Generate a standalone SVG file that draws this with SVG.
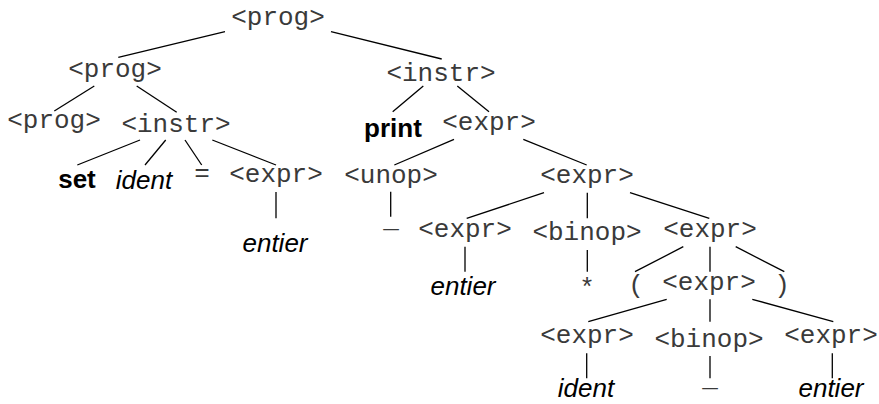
<svg xmlns="http://www.w3.org/2000/svg" width="879" height="404" viewBox="0 0 879 404">
  <style>
    .mono { font-family: "Liberation Mono", "Courier New", monospace; font-size: 26px; fill: #3a3a3a; text-anchor: middle; }
    .kw { font-family: "Liberation Sans", Arial, sans-serif; font-size: 26px; font-weight: bold; fill: #000; text-anchor: middle; }
    .tok { font-family: "Liberation Sans", Arial, sans-serif; font-size: 26px; font-style: italic; fill: #000; text-anchor: middle; }
    .edges line { stroke: #000; stroke-width: 1.3; stroke-linecap: butt; }
  </style>
  <rect width="879" height="404" fill="#fff"/>

  <!-- parse tree edges -->
  <g id="connectors" class="edges">
    <line x1="225" y1="31.7" x2="118.3" y2="57.3"/>
    <line x1="331" y1="31.7" x2="441.7" y2="59"/>
    <line x1="94.3" y1="86" x2="54.3" y2="111"/>
    <line x1="136.7" y1="86" x2="176.7" y2="112.3"/>
    <line x1="423.3" y1="86" x2="392.7" y2="111.7"/>
    <line x1="457.3" y1="86" x2="489" y2="111.7"/>
    <line x1="140" y1="140" x2="77.3" y2="165"/>
    <line x1="165.7" y1="140" x2="145" y2="165"/>
    <line x1="185" y1="140" x2="201.7" y2="165"/>
    <line x1="212.3" y1="140" x2="276" y2="165"/>
    <line x1="454" y1="139.3" x2="394.3" y2="165"/>
    <line x1="523.3" y1="139.3" x2="586.7" y2="165"/>
    <line x1="276" y1="192" x2="276" y2="218.3"/>
    <line x1="390.7" y1="191.7" x2="390.7" y2="216.7"/>
    <line x1="544" y1="192.7" x2="466.7" y2="218.3"/>
    <line x1="587.3" y1="192.7" x2="587.3" y2="218.3"/>
    <line x1="630" y1="192.7" x2="709.3" y2="218.3"/>
    <line x1="465" y1="246.7" x2="465" y2="271.7"/>
    <line x1="587.3" y1="250" x2="587.3" y2="271.7"/>
    <line x1="683.3" y1="246.7" x2="635" y2="271.7"/>
    <line x1="710" y1="246.7" x2="710" y2="271.7"/>
    <line x1="735.7" y1="246.7" x2="784.3" y2="271.7"/>
    <line x1="666.7" y1="299.3" x2="588.3" y2="321.7"/>
    <line x1="710" y1="299.3" x2="710" y2="321.7"/>
    <line x1="752.3" y1="299.3" x2="833.3" y2="321.7"/>
    <line x1="586.7" y1="353.3" x2="586.7" y2="378.3"/>
    <line x1="710" y1="356" x2="710" y2="378.3"/>
    <line x1="832.3" y1="353.3" x2="832.3" y2="378.3"/>
  </g>

  <!-- nodes -->
  <g id="n0"><text class="mono" x="278" y="25">&lt;prog&gt;</text></g>
  <g id="n1"><text class="mono" x="115" y="77">&lt;prog&gt;</text></g>
  <g id="n2"><text class="mono" x="441" y="81">&lt;instr&gt;</text></g>
  <g id="n3"><text class="mono" x="54" y="128">&lt;prog&gt;</text></g>
  <g id="n4"><text class="mono" x="176" y="132">&lt;instr&gt;</text></g>
  <g id="n5"><text class="kw" x="393" y="137">print</text></g>
  <g id="n6"><text class="mono" x="489" y="130">&lt;expr&gt;</text></g>
  <g id="n7"><text class="kw" x="77" y="188">set</text></g>
  <g id="n8"><text class="tok" x="144" y="189">ident</text></g>
  <g id="n9"><text class="mono" x="202" y="181">=</text></g>
  <g id="n10"><text class="mono" x="276" y="182">&lt;expr&gt;</text></g>
  <g id="n11"><text class="mono" x="391" y="183">&lt;unop&gt;</text></g>
  <g id="n12"><text class="mono" x="587" y="183">&lt;expr&gt;</text></g>
  <g id="n13"><text class="tok" x="275" y="252">entier</text></g>
  <g id="n14"><text class="mono" x="391" y="227">_</text></g>
  <g id="n15"><text class="mono" x="465" y="237">&lt;expr&gt;</text></g>
  <g id="n16"><text class="mono" x="587" y="240">&lt;binop&gt;</text></g>
  <g id="n17"><text class="mono" x="710" y="237">&lt;expr&gt;</text></g>
  <g id="n18"><text class="tok" x="463" y="295">entier</text></g>
  <g id="n19"><text class="mono" x="587" y="296">*</text></g>
  <g id="n20"><text class="mono" x="636" y="293">(</text></g>
  <g id="n21"><text class="mono" x="709" y="290">&lt;expr&gt;</text></g>
  <g id="n22"><text class="mono" x="782" y="293">)</text></g>
  <g id="n23"><text class="mono" x="587" y="343">&lt;expr&gt;</text></g>
  <g id="n24"><text class="mono" x="709" y="347">&lt;binop&gt;</text></g>
  <g id="n25"><text class="mono" x="831" y="343">&lt;expr&gt;</text></g>
  <g id="n26"><text class="tok" x="586" y="397">ident</text></g>
  <g id="n27"><text class="mono" x="710" y="386">_</text></g>
  <g id="n28"><text class="tok" x="831" y="397">entier</text></g>
</svg>
